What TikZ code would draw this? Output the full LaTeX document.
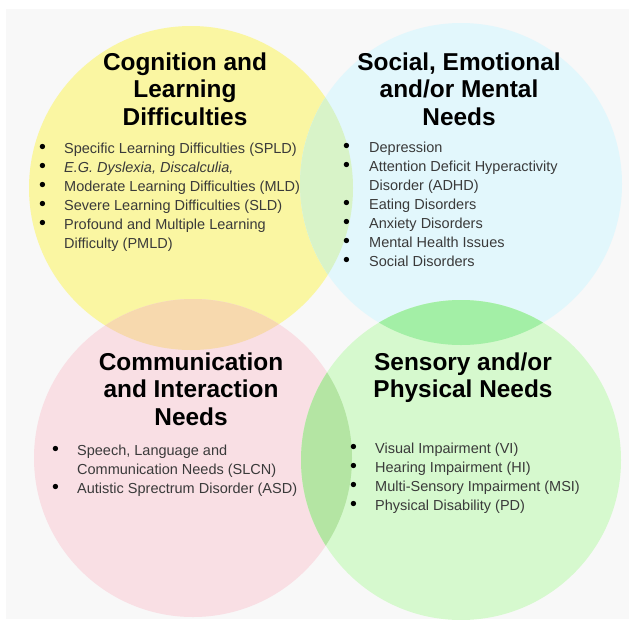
\documentclass[tikz,border=0pt]{standalone}
\usepackage{fontspec}
\setmainfont{Liberation Sans}
\usepackage{array}
\usepackage{graphicx}
\definecolor{bgc}{HTML}{F8F8F8}
\definecolor{cyel}{HTML}{FAF6A2}
\definecolor{cblu}{HTML}{E2F7FC}
\definecolor{cpnk}{HTML}{F9DFE4}
\definecolor{cgrn}{HTML}{D6F9CE}
\definecolor{cyb}{HTML}{D8F3C8}
\definecolor{cyp}{HTML}{F7D9AE}
\definecolor{cbg}{HTML}{A3EFA6}
\definecolor{cpg}{HTML}{B4E5A3}
\definecolor{bodytxt}{HTML}{3A3A3A}
\newcommand{\yelc}{(191,188) circle[radius=162pt]}
\newcommand{\bluc}{(461,184) circle[radius=161pt]}
\newcommand{\pnkc}{(193,458) circle[radius=159pt]}
\newcommand{\grnc}{(461,460) circle[radius=160pt]}
\newcommand{\bul}{\textcolor{black}{\scalebox{1.35}{\textbullet}}}
\tikzset{
  head/.style={inner sep=0pt, anchor=base, text=black, font=\fontsize{24.4}{27.5}\selectfont\bfseries},
  listbox/.style={inner sep=0pt, anchor=base west, text=bodytxt, font=\fontsize{14.5}{19}\selectfont},
}
\begin{document}
\begin{tikzpicture}[x=1pt,y=-1pt]
\useasboundingbox (0,0) rectangle (629,619);
\fill[white] (0,0) rectangle (629,619);
\fill[bgc] (6,9) rectangle (629,619);
% circles
\fill[cyel] \yelc;
\fill[cblu] \bluc;
\fill[cpnk] \pnkc;
\fill[cgrn] \grnc;
% overlaps
\begin{scope}\clip \yelc; \fill[cyb] \bluc; \end{scope}
\begin{scope}\clip \yelc; \fill[cyp] \pnkc; \end{scope}
\begin{scope}\clip \bluc; \fill[cbg] \grnc; \end{scope}
\begin{scope}\clip \pnkc; \fill[cpg] \grnc; \end{scope}
% headings
\node[head] (yh) at (185,70) {\begin{tabular}[t]{@{}c@{}}Cognition and\\Learning\\Difficulties\end{tabular}};
\node[head] (bh) at (459,70) {\begin{tabular}[t]{@{}c@{}}Social, Emotional\\and/or Mental\\Needs\end{tabular}};
\node[head] (ph) at (191,370) {\begin{tabular}[t]{@{}c@{}}Communication\\and Interaction\\Needs\end{tabular}};
\node[head] (gh) at (463,370) {\begin{tabular}[t]{@{}c@{}}Sensory and/or\\Physical Needs\end{tabular}};
% lists
\node[listbox] (yl) at (39,153) {\begin{tabular}[t]{@{}p{25pt}@{}l@{}}
\bul & Specific Learning Difficulties (SPLD)\\
\bul & \textit{E.G. Dyslexia, Discalculia,}\\
\bul & Moderate Learning Difficulties (MLD)\\
\bul & Severe Learning Difficulties (SLD)\\
\bul & Profound and Multiple Learning\\
 & Difficulty (PMLD)
\end{tabular}};
\node[listbox] (bl) at (343,152) {\begin{tabular}[t]{@{}p{26pt}@{}l@{}}
\bul & Depression\\
\bul & Attention Deficit Hyperactivity\\
 & Disorder (ADHD)\\
\bul & Eating Disorders\\
\bul & Anxiety Disorders\\
\bul & Mental Health Issues\\
\bul & Social Disorders
\end{tabular}};
\node[listbox] (pl) at (52,455) {\begin{tabular}[t]{@{}p{25pt}@{}l@{}}
\bul & Speech, Language and\\
 & Communication Needs (SLCN)\\
\bul & Autistic Sprectrum Disorder (ASD)
\end{tabular}};
\node[listbox] (gl) at (350,453) {\begin{tabular}[t]{@{}p{25pt}@{}l@{}}
\bul & Visual Impairment (VI)\\
\bul & Hearing Impairment (HI)\\
\bul & Multi-Sensory Impairment (MSI)\\
\bul & Physical Disability (PD)
\end{tabular}};
\end{tikzpicture}
\end{document}
